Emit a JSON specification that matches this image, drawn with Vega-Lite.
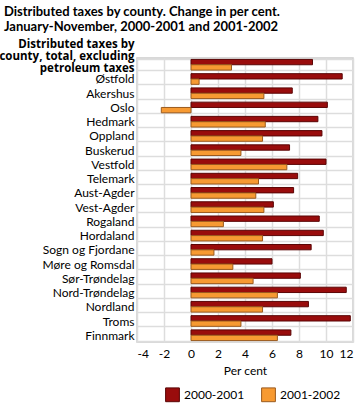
{
  "$schema": "https://vega.github.io/schema/vega-lite/v6.json",
  "width": 216,
  "height": 284,
  "autosize": "none",
  "padding": {"left": 137, "top": 58, "right": 7, "bottom": 68},
  "title": {
    "text": ["Distributed taxes by county. Change in per cent.", "January-November, 2000-2001 and 2001-2002"],
    "anchor": "start",
    "font": "Lato",
    "fontSize": 13,
    "fontWeight": "bold",
    "lineHeight": 15,
    "color": "#000000",
    "offset": 5,
    "dx": 5
  },
  "data": {
    "values": [
      {"county": "Distributed taxes by county, total, excluding petroleum taxes", "period": "2000-2001", "value": 9.0},
      {"county": "Distributed taxes by county, total, excluding petroleum taxes", "period": "2001-2002", "value": 3.0},
      {"county": "Østfold", "period": "2000-2001", "value": 11.2},
      {"county": "Østfold", "period": "2001-2002", "value": 0.6},
      {"county": "Akershus", "period": "2000-2001", "value": 7.5},
      {"county": "Akershus", "period": "2001-2002", "value": 5.4},
      {"county": "Oslo", "period": "2000-2001", "value": 10.1},
      {"county": "Oslo", "period": "2001-2002", "value": -2.2},
      {"county": "Hedmark", "period": "2000-2001", "value": 9.4},
      {"county": "Hedmark", "period": "2001-2002", "value": 5.5},
      {"county": "Oppland", "period": "2000-2001", "value": 9.7},
      {"county": "Oppland", "period": "2001-2002", "value": 5.3},
      {"county": "Buskerud", "period": "2000-2001", "value": 7.3},
      {"county": "Buskerud", "period": "2001-2002", "value": 3.7},
      {"county": "Vestfold", "period": "2000-2001", "value": 10.0},
      {"county": "Vestfold", "period": "2001-2002", "value": 7.1},
      {"county": "Telemark", "period": "2000-2001", "value": 7.9},
      {"county": "Telemark", "period": "2001-2002", "value": 5.0},
      {"county": "Aust-Agder", "period": "2000-2001", "value": 7.6},
      {"county": "Aust-Agder", "period": "2001-2002", "value": 4.8},
      {"county": "Vest-Agder", "period": "2000-2001", "value": 6.1},
      {"county": "Vest-Agder", "period": "2001-2002", "value": 5.4},
      {"county": "Rogaland", "period": "2000-2001", "value": 9.5},
      {"county": "Rogaland", "period": "2001-2002", "value": 2.4},
      {"county": "Hordaland", "period": "2000-2001", "value": 9.8},
      {"county": "Hordaland", "period": "2001-2002", "value": 5.3},
      {"county": "Sogn og Fjordane", "period": "2000-2001", "value": 8.9},
      {"county": "Sogn og Fjordane", "period": "2001-2002", "value": 1.7},
      {"county": "Møre og Romsdal", "period": "2000-2001", "value": 6.0},
      {"county": "Møre og Romsdal", "period": "2001-2002", "value": 3.1},
      {"county": "Sør-Trøndelag", "period": "2000-2001", "value": 8.1},
      {"county": "Sør-Trøndelag", "period": "2001-2002", "value": 4.6},
      {"county": "Nord-Trøndelag", "period": "2000-2001", "value": 11.5},
      {"county": "Nord-Trøndelag", "period": "2001-2002", "value": 6.4},
      {"county": "Nordland", "period": "2000-2001", "value": 8.7},
      {"county": "Nordland", "period": "2001-2002", "value": 5.3},
      {"county": "Troms", "period": "2000-2001", "value": 11.8},
      {"county": "Troms", "period": "2001-2002", "value": 3.7},
      {"county": "Finnmark", "period": "2000-2001", "value": 7.4},
      {"county": "Finnmark", "period": "2001-2002", "value": 6.4}
    ]
  },
  "mark": {"type": "bar", "strokeWidth": 1},
  "encoding": {
    "y": {
      "field": "county",
      "type": "nominal",
      "sort": null,
      "scale": {"paddingInner": 0.25, "paddingOuter": 0.1},
      "axis": {
        "title": null,
        "ticks": false,
        "domain": false,
        "grid": true,
        "tickBand": "extent",
        "gridColor": "#dddddd",
        "gridWidth": 1.5,
        "labelPadding": 3,
        "labelFont": {"condition": {"test": "datum.value === 'Distributed taxes by county, total, excluding petroleum taxes'", "value": "Open Sans"}, "value": "Lato"},
        "labelFontSize": {"condition": {"test": "datum.value === 'Distributed taxes by county, total, excluding petroleum taxes'", "value": 11.5}, "value": 12},
        "labelColor": "#000000",
        "labelLimit": 200,
        "labelLineHeight": 12,
        "labelFontWeight": {"condition": {"test": "datum.value === 'Distributed taxes by county, total, excluding petroleum taxes'", "value": "bold"}, "value": "normal"},
        "labelOffset": {"condition": {"test": "datum.value === 'Distributed taxes by county, total, excluding petroleum taxes'", "value": -20}, "value": 0},
        "labelExpr": "datum.value === 'Distributed taxes by county, total, excluding petroleum taxes' ? ['Distributed taxes by', 'county, total, excluding', 'petroleum taxes'] : datum.label"
      }
    },
    "yOffset": {"field": "period", "type": "nominal", "sort": ["2000-2001", "2001-2002"]},
    "x": {
      "field": "value",
      "type": "quantitative",
      "scale": {"domain": [-4, 12], "nice": false},
      "axis": {
        "title": "Per cent",
        "values": [-4, -2, 0, 2, 4, 6, 8, 10, 12],
        "labelExpr": "'' + datum.value",
        "ticks": false,
        "domain": false,
        "gridColor": "#dddddd",
        "gridWidth": 1.5,
        "labelPadding": 6,
        "labelFont": "Lato",
        "labelFontSize": 12,
        "labelColor": "#000000",
        "titleFont": "Lato",
        "titleFontSize": 12,
        "titleFontWeight": "normal",
        "titleColor": "#000000",
        "titlePadding": 6
      }
    },
    "color": {
      "field": "period",
      "type": "nominal",
      "scale": {"domain": ["2000-2001", "2001-2002"], "range": ["#990c0c", "#f79a32"]},
      "legend": {
        "title": null,
        "orient": "none",
        "legendX": 28,
        "legendY": 329,
        "direction": "horizontal",
        "symbolType": "square",
        "symbolSize": 190,
        "symbolStrokeColor": "#555555",
        "symbolStrokeWidth": 1,
        "labelFont": "Lato",
        "labelFontSize": 12,
        "labelColor": "#000000",
        "labelOffset": 4,
        "columnPadding": 14
      }
    },
    "stroke": {
      "field": "period",
      "type": "nominal",
      "scale": {"domain": ["2000-2001", "2001-2002"], "range": ["#5a0505", "#9a5a1e"]},
      "legend": null
    }
  },
  "config": {
    "view": {"stroke": "#cccccc", "strokeWidth": 1.5},
    "background": "#ffffff"
  }
}
